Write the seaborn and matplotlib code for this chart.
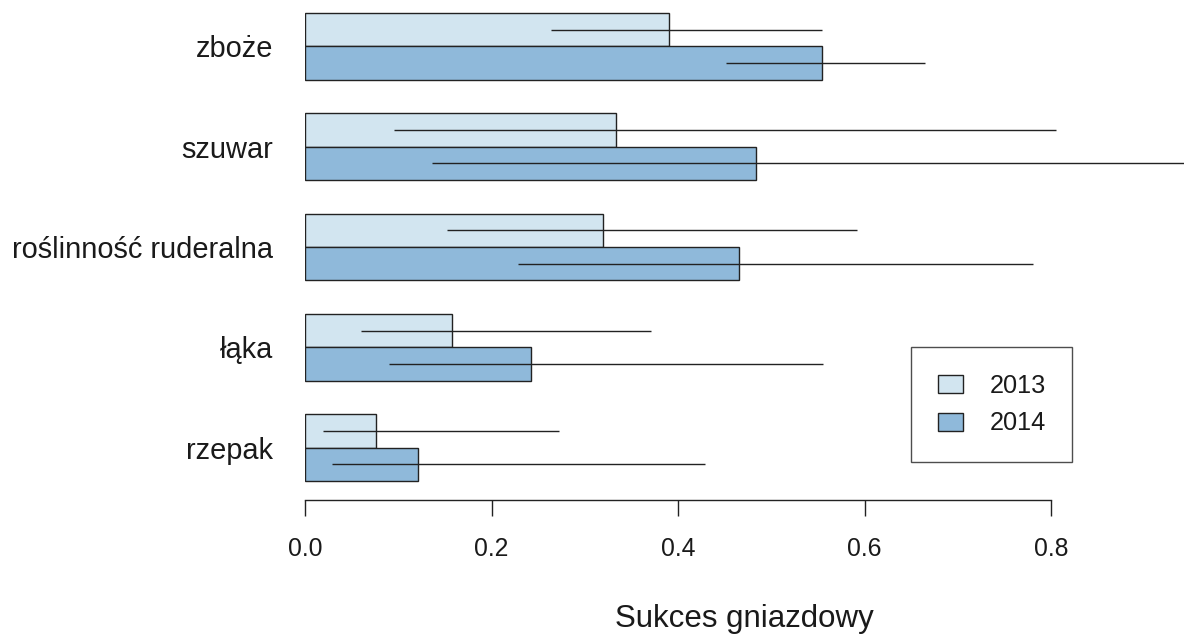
import numpy as np
import pandas as pd
import matplotlib
matplotlib.use("Agg")
import matplotlib.pyplot as plt
import seaborn as sns

categories = ["zboże", "szuwar", "roślinność ruderalna", "łąka", "rzepak"]
years = ["2013", "2014"]
s2013 = [0.390, 0.333, 0.320, 0.158, 0.076]
s2014 = [0.554, 0.484, 0.465, 0.242, 0.121]
lo2013 = [0.264, 0.095, 0.152, 0.060, 0.019]
hi2013 = [0.554, 0.805, 0.592, 0.371, 0.272]
lo2014 = [0.451, 0.136, 0.228, 0.090, 0.029]
hi2014 = [0.665, 1.000, 0.781, 0.555, 0.429]
xticks = [0.0, 0.2, 0.4, 0.6, 0.8]
xtick_labels = ["0.0", "0.2", "0.4", "0.6", "0.8"]
colors = ["#D2E5F0", "#8FB9DA"]

sns.set_style("white")
plt.rcParams["font.family"] = ["Liberation Sans", "DejaVu Sans"]

df = pd.DataFrame({
    "cat": categories * 2,
    "val": s2013 + s2014,
    "year": [years[0]] * 5 + [years[1]] * 5,
})

W, H = 1184, 636
fig = plt.figure(figsize=(W / 100, H / 100), dpi=100)
ax = fig.add_axes([305 / W, 136 / H, 1 - 305 / W, 500 / H])

sns.barplot(data=df, y="cat", x="val", hue="year", orient="h", order=categories,
            hue_order=years, width=2 / 3, palette=colors, edgecolor="#222222",
            linewidth=1.0, errorbar=None, ax=ax, legend=True, saturation=1)

ypos = np.arange(len(categories))
off = 1 / 6
ax.hlines(ypos - off, lo2013, hi2013, color="#222222", lw=1.0, zorder=5)
ax.hlines(ypos + off, lo2014, hi2014, color="#222222", lw=1.0, zorder=5)

ax.set_xlim(0, 879 / 932.5)
ax.set_ylim(4.522, -0.463)

for s in ["left", "top", "right"]:
    ax.spines[s].set_visible(False)
ax.spines["bottom"].set_bounds(0, 0.8)
ax.spines["bottom"].set_color("#222222")
ax.spines["bottom"].set_linewidth(1.0)

ax.set_xticks(xticks)
ax.set_xticklabels(xtick_labels, fontsize=17.8)
ax.tick_params(axis="x", length=11.5, width=1.0, color="#222222", pad=15.5, bottom=True,
               labelcolor="#1a1a1a")
ax.tick_params(axis="y", length=0, pad=23, labelsize=20.9, labelcolor="#1a1a1a")
ax.set_ylabel("")
ax.set_xlabel("Sukces gniazdowy", fontsize=22.5, color="#1a1a1a")
ax.xaxis.label.set_va("center")
ax.xaxis.set_label_coords(0.5, ((636 - 619) / H - 136 / H) / (500 / H))

handles, labels = ax.get_legend_handles_labels()
leg = ax.legend(handles, labels, loc="upper left",
                bbox_to_anchor=(911 / W, 1 - 347 / H), bbox_transform=fig.transFigure,
                borderaxespad=0, fontsize=18.2, frameon=True, fancybox=False,
                edgecolor="#222222", handlelength=1.0, handleheight=0.72,
                handletextpad=1.05, labelspacing=0.55, borderpad=1.05, title=None)
leg.get_frame().set_linewidth(1.0)
for t in leg.get_texts():
    t.set_color("#1a1a1a")

fig.savefig("out.png", dpi=100)
